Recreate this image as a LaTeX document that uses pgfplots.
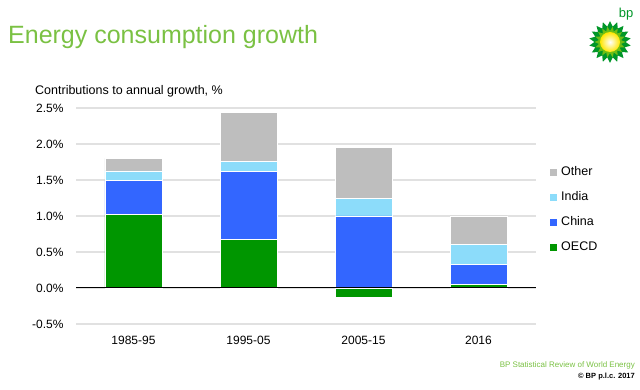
\documentclass[border=0pt]{standalone}
\usepackage{fontspec}
\setmainfont{Liberation Sans}
\usepackage{pgfplots}
\pgfplotsset{compat=1.18}
\usetikzlibrary{shapes.geometric}
\definecolor{oecd}{RGB}{0,150,0}
\definecolor{china}{RGB}{51,102,255}
\definecolor{india}{RGB}{140,220,250}
\definecolor{other}{RGB}{190,190,190}
\definecolor{titlegreen}{RGB}{122,193,67}
\definecolor{gridgray}{RGB}{225,225,225}
\definecolor{bpgreen}{RGB}{0,150,40}
\definecolor{bplight}{RGB}{110,190,20}
\definecolor{bpyellow}{RGB}{255,230,0}

\begin{document}
\begin{tikzpicture}
\path[use as bounding box] (0pt,0pt) rectangle (640pt,389pt);
\node[anchor=base west, inner sep=0pt, font=\fontsize{25}{29}\selectfont, text=titlegreen] at (8pt,345pt) {Energy consumption growth};
\node[anchor=base west, inner sep=0pt, font=\fontsize{12.5}{15}\selectfont] at (35pt,294.5pt) {Contributions to annual growth, \%};

% logo
\node[star, star points=18, star point ratio=1.35, minimum size=42pt, fill=bpgreen, inner sep=0pt] at (610pt,347pt) {};
\node[star, star points=18, star point ratio=1.4, minimum size=31pt, fill=bplight, inner sep=0pt, rotate=10] at (610pt,347pt) {};
\shade[inner color=white, outer color=bpyellow] (610pt,347pt) circle (10pt);
\node[font=\fontsize{13}{15}\selectfont, text=bpgreen, inner sep=0pt] at (626pt,375pt) {bp};

\begin{axis}[
  at={(76pt,281pt)}, anchor=north west, scale only axis,
  width=460pt, height=216pt,
  xmin=-0.5, xmax=3.5, ymin=-0.5, ymax=2.5,
  ybar stacked, bar width=57pt,
  axis line style={draw=none},
  major tick length=0pt,
  ytick={-0.5,0,0.5,1,1.5,2,2.5},
  ymajorgrids, grid style={gridgray, line width=1.1pt},
  xtick={0,1,2,3},
  xticklabels={1985-95,1995-05,2005-15,2016},
  /pgf/number format/assume math mode=true,
  yticklabel={\pgfmathprintnumber[fixed,fixed zerofill,precision=1]{\tick}\%},
  yticklabel style={font=\fontsize{12}{14}\selectfont, xshift=-9pt},
  xticklabel style={font=\fontsize{12}{14}\selectfont, yshift=-9pt},
  legend image code/.code={\fill[#1,draw=none] (0pt,-3.5pt) rectangle (7pt,3.5pt);},
  reverse legend,
  legend style={at={(1.024,0.5255)}, anchor=west, draw=none, fill=none,
    font=\fontsize{12.5}{15}\selectfont, row sep=13pt, column sep=4pt,
    nodes={inner sep=0pt, text height=9pt, text depth=3pt},
    cells={anchor=west}},
]
\addplot[fill=oecd, draw=white, line width=0.6pt] coordinates {(0,1.02) (1,0.67) (2,0) (3,0.05)};
\addplot[fill=china, draw=white, line width=0.6pt] coordinates {(0,0.47) (1,0.945) (2,1.0) (3,0.28)};
\addplot[fill=india, draw=white, line width=0.6pt] coordinates {(0,0.135) (1,0.145) (2,0.245) (3,0.27)};
\addplot[fill=other, draw=white, line width=0.6pt] coordinates {(0,0.175) (1,0.68) (2,0.71) (3,0.40)};
\legend{OECD,China,India,Other}
\end{axis}

\begin{axis}[
  at={(76pt,281pt)}, anchor=north west, scale only axis,
  width=460pt, height=216pt,
  xmin=-0.5, xmax=3.5, ymin=-0.5, ymax=2.5,
  hide axis, ybar, bar width=57pt,
]
\addplot[fill=oecd, draw=white, line width=0.6pt] coordinates {(2,-0.13)};
\draw[black, line width=1pt] (axis cs:-0.5,0) -- (axis cs:3.5,0);
\end{axis}

\node[anchor=base east, inner sep=0pt, font=\fontsize{8}{9}\selectfont, text=titlegreen] at (635pt,21.5pt) {BP Statistical Review of World Energy};
\node[anchor=base east, inner sep=0pt, font=\bfseries\fontsize{7.5}{9}\selectfont] at (635pt,10.5pt) {© BP p.l.c. 2017};
\end{tikzpicture}
\end{document}
